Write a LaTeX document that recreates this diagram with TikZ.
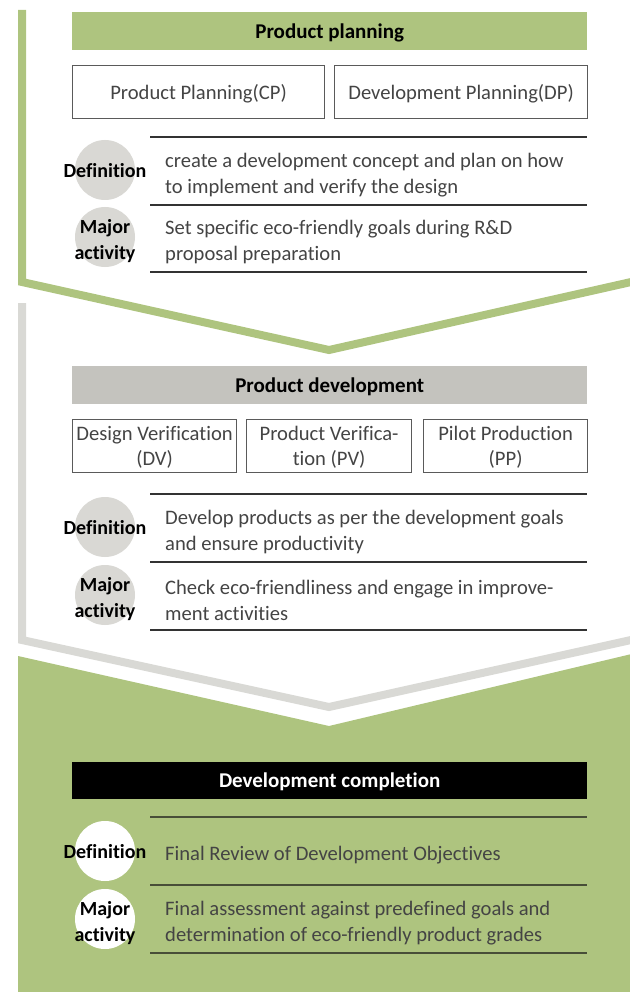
\documentclass[tikz,border=0pt]{standalone}
\usepackage{fontspec}
\setmainfont{Carlito}[RawFeature=-liga]
\definecolor{leaf}{RGB}{174,196,127}
\definecolor{mist}{RGB}{217,217,213}
\definecolor{stone}{RGB}{196,195,190}
\definecolor{pebble}{RGB}{217,216,212}
\definecolor{ink}{RGB}{68,68,68}
\definecolor{frame}{RGB}{90,90,90}
\definecolor{moss}{RGB}{72,78,56}

\begin{document}
\begin{tikzpicture}[x=1pt, y=-1pt,
	every node/.style={font=\fontsize{20.6}{26}\selectfont, text=ink},
	bar/.style={anchor=north west, minimum width=515, minimum height=38, inner sep=0, font=\fontsize{21}{26}\selectfont\bfseries, text=black, text depth=1pt},
	stagebox/.style={anchor=north west, draw=frame, line width=1.2, minimum height=53, inner sep=0, align=center, font=\fontsize{20.6}{25}\selectfont, text depth=0pt},
	rule/.style={line width=1.2, black!80},
	dot/.style={circle, minimum size=60, inner sep=0},
	tag/.style={font=\fontsize{20}{26}\selectfont\bfseries, text=black, align=center, yshift=-1pt},
	para/.style={anchor=west, align=left, inner sep=0, yshift=-2pt}]
	\useasboundingbox (0,0) rectangle (629,992);

	\draw[leaf, line width=8] (22,10) -- (22,282) -- (329,350) -- (640,280);
	\node[bar, fill=leaf] (plan) at (72,12) {Product planning};
	\node[stagebox, minimum width=252] (cp) at (72,65) {Product Planning(CP)};
	\node[stagebox, minimum width=253] (dp) at (334,65) {Development Planning(DP)};
	\draw[rule] (150,137) -- (587,137);
	\draw[rule] (150,205) -- (587,205);
	\draw[rule] (150,272) -- (587,272);
	\node[dot, fill=pebble] (plandef) at (105,170) {};
	\node[tag] at (plandef) {Definition};
	\node[dot, fill=pebble] (planact) at (105,237) {};
	\node[tag, yshift=-3pt] at (planact) {Major\\activity};
	\node[para] (plandeftxt) at (165,173) {create a development concept and plan on how\\to implement and verify the design};
	\node[para] (planacttxt) at (165,240) {Set specific eco-friendly goals during R\&D\\proposal preparation};

	\draw[mist, line width=8] (22,303) -- (22,640) -- (329,707) -- (640,638);
	\node[bar, fill=stone] (devel) at (72,366) {Product development};
	\node[stagebox, minimum width=164] (dv) at (72,419) {Design Verification\\(DV)};
	\node[stagebox, minimum width=165] (pv) at (246,419) {Product Verifica-\\tion (PV)};
	\node[stagebox, minimum width=164] (pp) at (423,419) {Pilot Production\\(PP)};
	\draw[rule] (150,494) -- (587,494);
	\draw[rule] (150,562) -- (587,562);
	\draw[rule] (150,630) -- (587,630);
	\node[dot, fill=pebble] (develdef) at (105,527) {};
	\node[tag] at (develdef) {Definition};
	\node[dot, fill=pebble] (develact) at (105,595) {};
	\node[tag, yshift=-3pt] at (develact) {Major\\activity};
	\node[para] (develdeftxt) at (165,530) {Develop products as per the development goals\\and ensure productivity};
	\node[para] (develacttxt) at (165,598) {Check eco-friendliness and engage in improve-\\ment activities};

	\fill[leaf] (18,656) -- (329,726) -- (640,652) -- (640,1000) -- (18,1000) -- cycle;
	\node[bar, fill=black, text=white, minimum height=37] (done) at (72,762) {Development completion};
	\draw[rule, moss] (150,817) -- (587,817);
	\draw[rule, moss] (150,885) -- (587,885);
	\draw[rule, moss] (150,953) -- (587,953);
	\node[dot, fill=white] (donedef) at (105,851) {};
	\node[tag] at (donedef) {Definition};
	\node[dot, fill=white] (doneact) at (105,919) {};
	\node[tag, yshift=-3pt] at (doneact) {Major\\activity};
	\node[para] (donedeftxt) at (165,853) {Final Review of Development Objectives};
	\node[para] (doneacttxt) at (165,921) {Final assessment against predefined goals and\\determination of eco-friendly product grades};
\end{tikzpicture}
\end{document}
